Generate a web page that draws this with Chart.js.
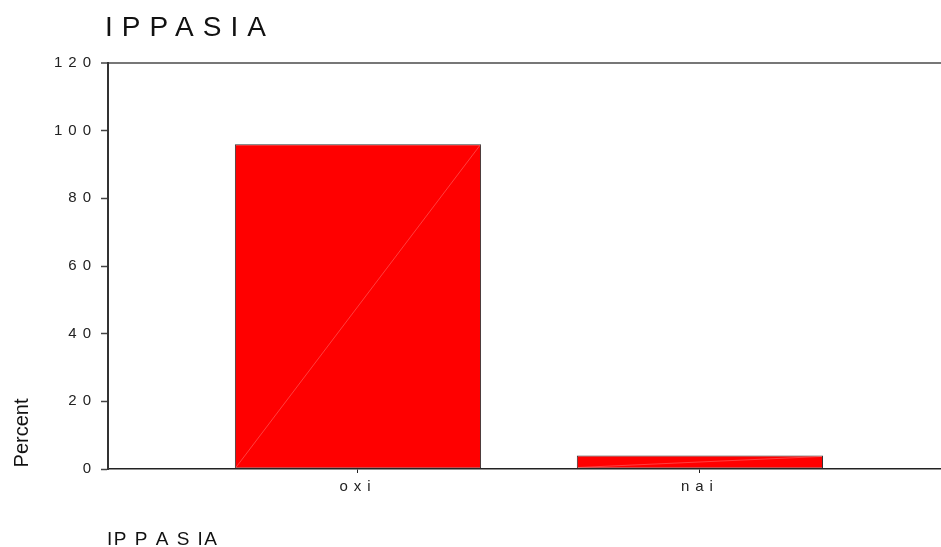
<!DOCTYPE html>
<html>
<head>
<meta charset="utf-8">
<script src="https://cdn.jsdelivr.net/npm/chart.js@4/dist/chart.umd.min.js"></script>
<style>
  html, body { margin: 0; padding: 0; background: #ffffff; }
  #wrap { width: 941px; height: 547px; position: relative; }
</style>
</head>
<body>
<div id="wrap"><canvas id="c" width="941" height="547"></canvas></div>
<script>
const chartTitle = "IPPASIA";
const xAxisTitle = "IP P A S IA";
const yAxisTitle = "Percent";
const categories = ["oxi", "nai"];
const percentValues = [96, 4];
const yTickValues = [0, 20, 40, 60, 80, 100, 120];

const FONT = "'Liberation Sans', Arial, Helvetica, sans-serif";

const textPlugin = {
  id: 'textPlugin',
  beforeInit(chart) { chart.ctx.letterSpacing = '6px'; },
  beforeUpdate(chart) { chart.ctx.letterSpacing = '6px'; },
  beforeDraw(chart) { chart.ctx.letterSpacing = '6px'; },
  afterDatasetsDraw(chart) {
    const ctx = chart.ctx;
    const meta = chart.getDatasetMeta(0);
    ctx.save();
    ctx.letterSpacing = '0px';
    ctx.strokeStyle = 'rgba(255,150,150,0.7)';
    ctx.lineWidth = 0.6;
    meta.data.forEach(bar => {
      const p = bar.getProps(['x', 'y', 'base', 'width'], true);
      ctx.beginPath();
      ctx.moveTo(p.x - p.width / 2 + 1, p.base - 1);
      ctx.lineTo(p.x + p.width / 2 - 1, p.y + 1);
      ctx.stroke();
    });
    ctx.restore();
  },
  afterDraw(chart) {
    const ctx = chart.ctx;
    const area = chart.chartArea;
    ctx.save();
    ctx.fillStyle = '#111';
    ctx.textBaseline = 'alphabetic';
    ctx.textAlign = 'left';
    ctx.letterSpacing = '9px';
    ctx.font = '28px ' + FONT;
    ctx.fillText(chartTitle, area.left - 3, 36);

    ctx.letterSpacing = '1.5px';
    ctx.font = '19px ' + FONT;
    ctx.fillText(xAxisTitle, area.left - 1, 545);

    ctx.letterSpacing = '0px';
    ctx.font = '20px ' + FONT;
    ctx.translate(28, 433);
    ctx.rotate(-Math.PI / 2);
    ctx.textAlign = 'center';
    ctx.fillText(yAxisTitle, 0, 0);
    ctx.restore();
    ctx.letterSpacing = '6px';
  }
};

const chart = new Chart(document.getElementById('c'), {
  type: 'bar',
  data: {
    datasets: [{
      data: categories.map((c, i) => ({ x: i + 1, y: percentValues[i] })),
      backgroundColor: '#ff0000',
      borderColor: '#333333',
      borderWidth: 1,
      borderSkipped: false,
      barPercentage: 0.72,
      categoryPercentage: 1.0
    }]
  },
  plugins: [textPlugin],
  options: {
    responsive: false,
    animation: false,
    devicePixelRatio: 1,
    layout: { padding: { top: 63, right: 0, bottom: 0, left: 0 } },
    plugins: {
      legend: { display: false },
      title: { display: false },
      tooltip: { enabled: false }
    },
    scales: {
      x: {
        type: 'linear',
        offset: false,
        min: 0.269,
        max: 2.705,
        afterBuildTicks(scale) { scale.ticks = categories.map((c, i) => ({ value: i + 1 })); },
        afterFit(scale) { scale.height = 78; },
        ticks: {
          callback: (v) => categories[v - 1] || '',
          color: '#222',
          font: { family: FONT, size: 15 },
          padding: 5,
          maxRotation: 0,
          autoSkip: false
        },
        grid: {
          offset: false,
          drawOnChartArea: false,
          drawTicks: true,
          tickLength: 4,
          color: '#222',
          tickColor: '#222'
        },
        border: { display: true, color: '#222', width: 1.5 }
      },
      y: {
        min: 0,
        max: 120,
        afterBuildTicks(scale) { scale.ticks = yTickValues.map(v => ({ value: v })); },
        afterFit(scale) { scale.width = 108; },
        ticks: {
          color: '#222',
          font: { family: FONT, size: 15 },
          padding: 4
        },
        grid: {
          drawOnChartArea: true,
          drawTicks: true,
          tickLength: 7,
          color: (ctx) => (ctx.tick && ctx.tick.value === 120) ? '#777777' : 'rgba(0,0,0,0)',
          lineWidth: (ctx) => (ctx.tick && ctx.tick.value === 120) ? 2 : 1,
          tickColor: '#444',
          tickWidth: 1.5
        },
        border: { display: true, color: '#333', width: 2 }
      }
    }
  }
});
</script>
</body>
</html>
